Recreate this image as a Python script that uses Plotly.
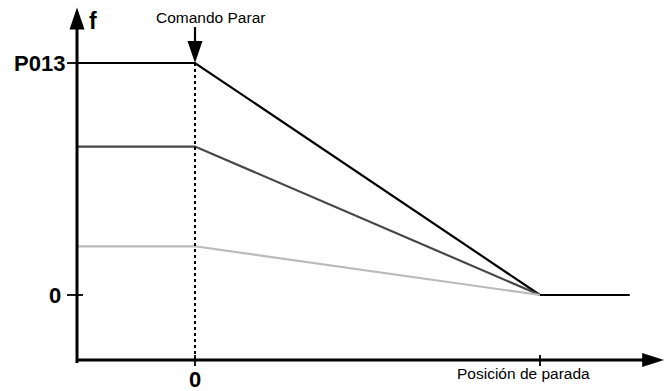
import plotly.graph_objects as go

# Frequency levels (P013 = 100 %) and the three deceleration ramps
level_names = ["P013", "medio", "bajo"]
levels = [100, 64, 21]
line_colors = ["#000000", "#474747", "#bababa"]

# Time marks: stop command, stopping position, end of hold
t_stop = 0
t_zero = 10
t_hold_end = 12.6

# Axis geometry in data units
x_range = [-5.652, 13.594]
y_range = [-41.38, 127.16]
axis_x = -3.42          # position of the vertical (f) axis
axis_y = -28.0          # position of the horizontal (t) axis
y_axis_bottom = -29.3
y_axis_top = 123.9
x_axis_right = 13.6

FONT = "Liberation Sans, Arial, sans-serif"

fig = go.Figure()

# Frequency profiles: constant until the stop command, then linear ramp to zero
for lvl, col in zip(levels, line_colors):
    fig.add_trace(go.Scatter(
        x=[axis_x, t_stop, t_zero], y=[lvl, lvl, 0],
        mode="lines", line=dict(color=col, width=2.2),
        hoverinfo="skip", showlegend=False))

# Zero-frequency hold after the stopping position
fig.add_trace(go.Scatter(
    x=[t_zero, t_hold_end], y=[0, 0],
    mode="lines", line=dict(color="#000000", width=2.2),
    hoverinfo="skip", showlegend=False))

shapes = []
# Axes
shapes.append(dict(type="line", xref="x", yref="y", x0=axis_x, x1=axis_x,
                   y0=y_axis_bottom, y1=y_axis_top - 2,
                   line=dict(color="black", width=3)))
shapes.append(dict(type="line", xref="x", yref="y", x0=axis_x, x1=x_axis_right - 0.3,
                   y0=axis_y, y1=axis_y, line=dict(color="black", width=3)))
# Arrow heads on the axes (pixel-sized triangles anchored at the tips)
shapes.append(dict(type="path", xref="x", yref="y", xsizemode="pixel", ysizemode="pixel",
                   xanchor=axis_x, yanchor=y_axis_top,
                   path="M0,0 L-7.5,-22 L7.5,-22 Z", fillcolor="black", line=dict(width=0)))
shapes.append(dict(type="path", xref="x", yref="y", xsizemode="pixel", ysizemode="pixel",
                   xanchor=x_axis_right, yanchor=axis_y,
                   path="M0,0 L-22,7 L-22,-7 Z", fillcolor="black", line=dict(width=0)))

# Vertical dotted marker at the stop command
shapes.append(dict(type="line", xref="x", yref="y", x0=t_stop, x1=t_stop,
                   y0=levels[0], y1=axis_y,
                   line=dict(color="black", width=2, dash="dot")))

# Tick marks
for yv in [0, levels[0]]:
    shapes.append(dict(type="line", xref="x", yref="y", xsizemode="pixel",
                       xanchor=axis_x, x0=-10, x1=6, y0=yv, y1=yv,
                       line=dict(color="black", width=1.8)))
for xv in [t_stop, t_zero]:
    shapes.append(dict(type="line", xref="x", yref="y", ysizemode="pixel",
                       yanchor=axis_y, y0=5, y1=-6, x0=xv, x1=xv,
                       line=dict(color="black", width=1.8)))

# "Comando Parar" arrow pointing down onto the stop instant
shapes.append(dict(type="line", xref="x", yref="y", xsizemode="pixel", ysizemode="pixel",
                   xanchor=t_stop, yanchor=levels[0], x0=0, x1=0, y0=14, y1=36,
                   line=dict(color="black", width=2.2)))
shapes.append(dict(type="path", xref="x", yref="y", xsizemode="pixel", ysizemode="pixel",
                   xanchor=t_stop, yanchor=levels[0],
                   path="M0,0 L-7.5,22 L7.5,22 Z", fillcolor="black", line=dict(width=0)))

annotations = [
    dict(x=axis_x, y=levels[0], text="<b>P013</b>", showarrow=False,
         xanchor="right", yanchor="middle", xshift=-10,
         font=dict(family=FONT, size=22, color="black")),
    dict(x=axis_x, y=0, text="<b>0</b>", showarrow=False,
         xanchor="right", yanchor="middle", xshift=-14,
         font=dict(family=FONT, size=22, color="black")),
    dict(x=t_stop, y=axis_y, text="<b>0</b>", showarrow=False,
         xanchor="center", yanchor="top", yshift=-5,
         font=dict(family=FONT, size=22, color="black")),
    dict(x=t_zero, y=axis_y, text="Posición de parada", showarrow=False,
         xanchor="right", yanchor="top", xshift=52, yshift=-3,
         font=dict(family=FONT, size=15.5, color="black")),
    dict(x=t_stop, y=y_axis_top, text="Comando Parar", showarrow=False,
         xanchor="center", yanchor="middle", xshift=15, yshift=-10,
         font=dict(family=FONT, size=15.5, color="black")),
    dict(x=axis_x, y=y_axis_top, text="<b>f</b>", showarrow=False,
         xanchor="left", yanchor="middle", xshift=10, yshift=-13,
         font=dict(family=FONT, size=23, color="black")),
    dict(x=x_axis_right, y=axis_y, text="<b>t</b>", showarrow=False,
         xanchor="center", yanchor="top", xshift=-3, yshift=-5,
         font=dict(family=FONT, size=23, color="black")),
]

fig.update_layout(
    width=664, height=391,
    margin=dict(l=0, r=0, t=0, b=0),
    paper_bgcolor="white", plot_bgcolor="white",
    xaxis=dict(range=x_range, visible=False, fixedrange=True),
    yaxis=dict(range=y_range, visible=False, fixedrange=True),
    shapes=shapes, annotations=annotations,
    showlegend=False,
)

fig.write_html("out.html")
